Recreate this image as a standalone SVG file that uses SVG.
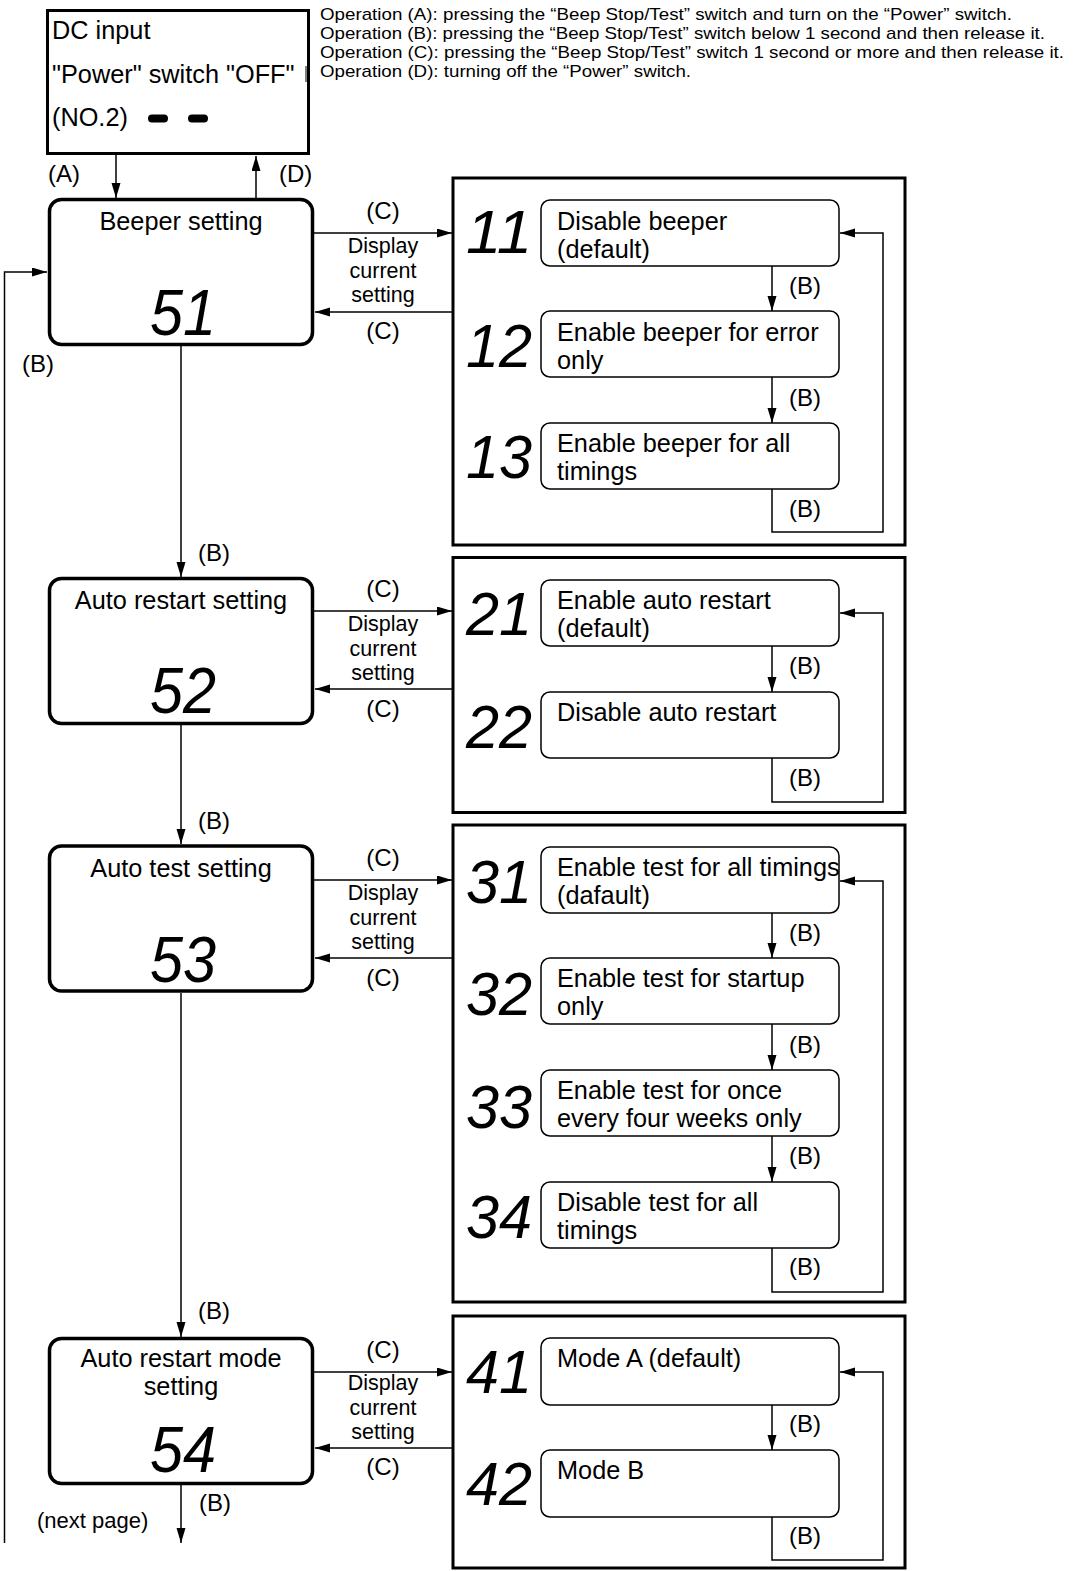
<svg xmlns="http://www.w3.org/2000/svg" width="1074" height="1571" viewBox="0 0 1074 1571">
<defs>
<marker id="ah" markerUnits="userSpaceOnUse" markerWidth="16" markerHeight="10" refX="15" refY="4.5" orient="auto">
<path d="M0,0 L15,4.5 L0,9 z" fill="#000"/>
</marker>
<style>
text{font-family:"Liberation Sans",Arial,sans-serif;fill:#000}
.t25{font-size:25.3px}
.lbl{font-size:24px}
.sm{font-size:21.5px}
.op{font-size:17px}
.mid{text-anchor:middle}
.seg{font-size:62px;font-style:italic}
.segL{font-size:65px;font-style:italic}
.main{fill:#fff;stroke:#000;stroke-width:3.5}
.panel{fill:none;stroke:#000;stroke-width:3}
.opt{fill:#fff;stroke:#000;stroke-width:1.5}
.c{fill:none;stroke:#000;stroke-width:1.5}
.ca{fill:none;stroke:#000;stroke-width:1.5;marker-end:url(#ah)}
</style>
</defs>
<rect width="1074" height="1571" fill="#fff"/>

<g id="legend">
<text class="op" x="320" y="20" textLength="692" lengthAdjust="spacingAndGlyphs">Operation (A): pressing the “Beep Stop/Test” switch and turn on the “Power” switch.</text>
<text class="op" x="320" y="39" textLength="725" lengthAdjust="spacingAndGlyphs">Operation (B): pressing the “Beep Stop/Test” switch below 1 second and then release it.</text>
<text class="op" x="320" y="58" textLength="744" lengthAdjust="spacingAndGlyphs">Operation (C): pressing the “Beep Stop/Test” switch 1 second or more and then release it.</text>
<text class="op" x="320" y="77" textLength="371" lengthAdjust="spacingAndGlyphs">Operation (D): turning off the “Power” switch.</text>
</g>

<g id="dc-input">
<rect x="47.5" y="10.5" width="261" height="143" fill="#fff" stroke="#000" stroke-width="3"/>
<text class="t25" x="52" y="39">DC input</text>
<text class="t25" x="52" y="83">"Power" switch "OFF"</text>
<line x1="306" y1="66" x2="306" y2="82" stroke="#000" stroke-width="1"/>
<text class="t25" x="52" y="126">(NO.2)</text>
<rect x="148" y="114.5" width="20" height="8" rx="4"/>
<rect x="188" y="114.5" width="20" height="8" rx="4"/>
</g>

<g id="beeper-setting">
<rect class="main" x="49.5" y="199.5" width="263" height="145" rx="12"/>
<text class="t25 mid" x="181" y="230">Beeper setting</text>
<text class="segL" x="150" y="335" textLength="66" lengthAdjust="spacingAndGlyphs">51</text>
</g>
<g id="auto-restart-setting">
<rect class="main" x="49.5" y="578.5" width="263" height="145" rx="12"/>
<text class="t25 mid" x="181" y="609">Auto restart setting</text>
<text class="segL" x="150" y="713" textLength="66" lengthAdjust="spacingAndGlyphs">52</text>
</g>
<g id="auto-test-setting">
<rect class="main" x="49.5" y="846" width="263" height="145" rx="12"/>
<text class="t25 mid" x="181" y="877">Auto test setting</text>
<text class="segL" x="150" y="982" textLength="66" lengthAdjust="spacingAndGlyphs">53</text>
</g>
<g id="auto-restart-mode-setting">
<rect class="main" x="49.5" y="1338.5" width="263" height="145" rx="12"/>
<text class="t25 mid" x="181" y="1367">Auto restart mode</text>
<text class="t25 mid" x="181" y="1395">setting</text>
<text class="segL" x="150" y="1472" textLength="66" lengthAdjust="spacingAndGlyphs">54</text>
</g>

<g id="panel-beeper">
<rect class="panel" x="453" y="178" width="452" height="367"/>
<g id="opt-11">
<rect class="opt" x="541" y="200" width="298" height="66" rx="9"/>
<text class="seg" x="466" y="253" textLength="66" lengthAdjust="spacingAndGlyphs">11</text>
<text class="t25" x="557" y="230">Disable beeper</text>
<text class="t25" x="557" y="258">(default)</text>
</g>
<g id="opt-12">
<rect class="opt" x="541" y="311" width="298" height="66" rx="9"/>
<text class="seg" x="466" y="367" textLength="66" lengthAdjust="spacingAndGlyphs">12</text>
<text class="t25" x="557" y="341">Enable beeper for error</text>
<text class="t25" x="557" y="369">only</text>
</g>
<g id="opt-13">
<rect class="opt" x="541" y="423" width="298" height="66" rx="9"/>
<text class="seg" x="466" y="478" textLength="66" lengthAdjust="spacingAndGlyphs">13</text>
<text class="t25" x="557" y="452">Enable beeper for all</text>
<text class="t25" x="557" y="480">timings</text>
</g>
</g>

<g id="panel-auto-restart">
<rect class="panel" x="453" y="557.5" width="452" height="255"/>
<g id="opt-21">
<rect class="opt" x="541" y="580" width="298" height="66" rx="9"/>
<text class="seg" x="466" y="635" textLength="66" lengthAdjust="spacingAndGlyphs">21</text>
<text class="t25" x="557" y="609">Enable auto restart</text>
<text class="t25" x="557" y="637">(default)</text>
</g>
<g id="opt-22">
<rect class="opt" x="541" y="692" width="298" height="66" rx="9"/>
<text class="seg" x="466" y="748" textLength="66" lengthAdjust="spacingAndGlyphs">22</text>
<text class="t25" x="557" y="721">Disable auto restart</text>
</g>
</g>

<g id="panel-auto-test">
<rect class="panel" x="453" y="825" width="452" height="477"/>
<g id="opt-31">
<rect class="opt" x="541" y="847" width="298" height="66" rx="9"/>
<text class="seg" x="466" y="903" textLength="66" lengthAdjust="spacingAndGlyphs">31</text>
<text class="t25" x="557" y="876">Enable test for all timings</text>
<text class="t25" x="557" y="904">(dafault)</text>
</g>
<g id="opt-32">
<rect class="opt" x="541" y="958" width="298" height="66" rx="9"/>
<text class="seg" x="466" y="1015" textLength="66" lengthAdjust="spacingAndGlyphs">32</text>
<text class="t25" x="557" y="987">Enable test for startup</text>
<text class="t25" x="557" y="1015">only</text>
</g>
<g id="opt-33">
<rect class="opt" x="541" y="1070" width="298" height="66" rx="9"/>
<text class="seg" x="466" y="1128" textLength="66" lengthAdjust="spacingAndGlyphs">33</text>
<text class="t25" x="557" y="1099">Enable test for once</text>
<text class="t25" x="557" y="1127">every four weeks only</text>
</g>
<g id="opt-34">
<rect class="opt" x="541" y="1182" width="298" height="66" rx="9"/>
<text class="seg" x="466" y="1238" textLength="66" lengthAdjust="spacingAndGlyphs">34</text>
<text class="t25" x="557" y="1211">Disable test for all</text>
<text class="t25" x="557" y="1239">timings</text>
</g>
</g>

<g id="panel-auto-restart-mode">
<rect class="panel" x="453" y="1316" width="452" height="252"/>
<g id="opt-41">
<rect class="opt" x="541" y="1338" width="298" height="67" rx="9"/>
<text class="seg" x="466" y="1393" textLength="66" lengthAdjust="spacingAndGlyphs">41</text>
<text class="t25" x="557" y="1367">Mode A (default)</text>
</g>
<g id="opt-42">
<rect class="opt" x="541" y="1450" width="298" height="67" rx="9"/>
<text class="seg" x="466" y="1505" textLength="66" lengthAdjust="spacingAndGlyphs">42</text>
<text class="t25" x="557" y="1479">Mode B</text>
</g>
</g>

<g id="connectors">
<line class="ca" x1="116" y1="155" x2="116" y2="198"/>
<line class="ca" x1="256" y1="198" x2="256" y2="156"/>
<text class="lbl" x="48" y="182">(A)</text>
<text class="lbl" x="279" y="182">(D)</text>

<line class="ca" x1="181" y1="346" x2="181" y2="577"/>
<text class="lbl" x="198" y="561">(B)</text>
<line class="ca" x1="181" y1="725" x2="181" y2="844"/>
<text class="lbl" x="198" y="829">(B)</text>
<line class="ca" x1="181" y1="993" x2="181" y2="1337"/>
<text class="lbl" x="198" y="1319">(B)</text>
<line class="ca" x1="181" y1="1485" x2="181" y2="1543"/>
<text class="lbl" x="199" y="1511">(B)</text>
<text x="37" y="1528" style="font-size:22px">(next page)</text>
<polyline class="ca" points="4.5,1543 4.5,272 47,272"/>
<text class="lbl" x="22" y="372">(B)</text>

<line class="ca" x1="314" y1="233" x2="452" y2="233"/>
<line class="ca" x1="452" y1="312" x2="315" y2="312"/>
<text class="lbl mid" x="383" y="219">(C)</text>
<text class="sm mid" x="383" y="253">Display</text>
<text class="sm mid" x="383" y="278">current</text>
<text class="sm mid" x="383" y="302">setting</text>
<text class="lbl mid" x="383" y="339">(C)</text>

<line class="ca" x1="314" y1="611" x2="452" y2="611"/>
<line class="ca" x1="452" y1="689" x2="315" y2="689"/>
<text class="lbl mid" x="383" y="597">(C)</text>
<text class="sm mid" x="383" y="631">Display</text>
<text class="sm mid" x="383" y="656">current</text>
<text class="sm mid" x="383" y="680">setting</text>
<text class="lbl mid" x="383" y="717">(C)</text>

<line class="ca" x1="314" y1="880" x2="452" y2="880"/>
<line class="ca" x1="452" y1="958" x2="315" y2="958"/>
<text class="lbl mid" x="383" y="866">(C)</text>
<text class="sm mid" x="383" y="900">Display</text>
<text class="sm mid" x="383" y="925">current</text>
<text class="sm mid" x="383" y="949">setting</text>
<text class="lbl mid" x="383" y="986">(C)</text>

<line class="ca" x1="314" y1="1372" x2="452" y2="1372"/>
<line class="ca" x1="452" y1="1448" x2="315" y2="1448"/>
<text class="lbl mid" x="383" y="1358">(C)</text>
<text class="sm mid" x="383" y="1390">Display</text>
<text class="sm mid" x="383" y="1415">current</text>
<text class="sm mid" x="383" y="1439">setting</text>
<text class="lbl mid" x="383" y="1475">(C)</text>

<line class="ca" x1="772" y1="266" x2="772" y2="311"/>
<text class="lbl" x="789" y="294">(B)</text>
<line class="ca" x1="772" y1="377" x2="772" y2="423"/>
<text class="lbl" x="789" y="406">(B)</text>
<polyline class="ca" points="772,489 772,532 883,532 883,233 840,233"/>
<text class="lbl" x="789" y="517">(B)</text>

<line class="ca" x1="772" y1="646" x2="772" y2="692"/>
<text class="lbl" x="789" y="674">(B)</text>
<polyline class="ca" points="772,758 772,802 883,802 883,613 840,613"/>
<text class="lbl" x="789" y="786">(B)</text>

<line class="ca" x1="772" y1="913" x2="772" y2="958"/>
<text class="lbl" x="789" y="941">(B)</text>
<line class="ca" x1="772" y1="1024" x2="772" y2="1070"/>
<text class="lbl" x="789" y="1053">(B)</text>
<line class="ca" x1="772" y1="1136" x2="772" y2="1182"/>
<text class="lbl" x="789" y="1164">(B)</text>
<polyline class="ca" points="772,1248 772,1292 883,1292 883,881 840,881"/>
<text class="lbl" x="789" y="1275">(B)</text>

<line class="ca" x1="772" y1="1405" x2="772" y2="1450"/>
<text class="lbl" x="789" y="1432">(B)</text>
<polyline class="ca" points="772,1517 772,1560 883,1560 883,1372 840,1372"/>
<text class="lbl" x="789" y="1544">(B)</text>
</g>
</svg>
